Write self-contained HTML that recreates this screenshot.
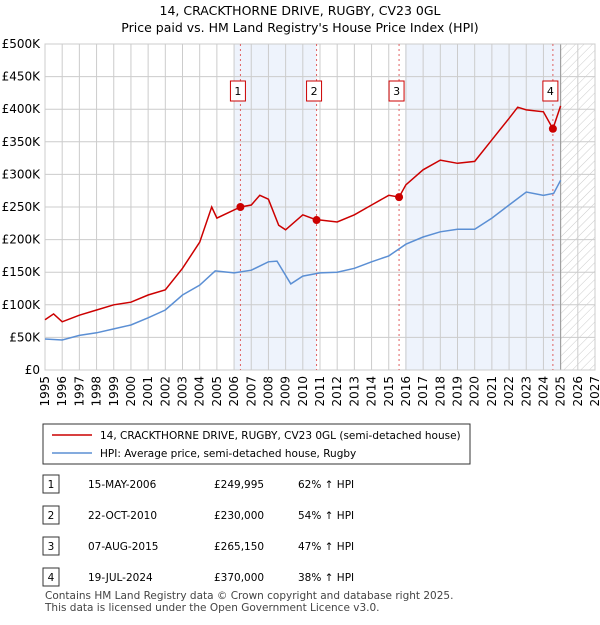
<!DOCTYPE html>
<html><head><meta charset="utf-8"><style>
body{margin:0;background:#fff;font-family:"Liberation Sans","DejaVu Sans",sans-serif;}
svg text{font-family:"DejaVu Sans","Liberation Sans",sans-serif;}
</style></head><body>
<svg id="c" width="600" height="620" xmlns="http://www.w3.org/2000/svg">
<defs><pattern id="hatch" width="6" height="6" patternUnits="userSpaceOnUse" patternTransform="rotate(45)"><line x1="0" y1="0" x2="0" y2="6" stroke="#ccc" stroke-width="1"/></pattern></defs>
<text x="300" y="15" text-anchor="middle" font-size="12.5">14, CRACKTHORNE DRIVE, RUGBY, CV23 0GL</text>
<text x="300" y="32" text-anchor="middle" font-size="12.5">Price paid vs. HM Land Registry's House Price Index (HPI)</text>
<g id="plot"></g>
<g>
<rect x="43" y="424" width="427" height="40" fill="#fff" stroke="#333"/>
<line x1="52" y1="435" x2="92" y2="435" stroke="#cc0000" stroke-width="1.5"/>
<text x="100" y="439" font-size="10.5">14, CRACKTHORNE DRIVE, RUGBY, CV23 0GL (semi-detached house)</text>
<line x1="52" y1="453" x2="92" y2="453" stroke="#5b8fd4" stroke-width="1.5"/>
<text x="100" y="457" font-size="10.5">HPI: Average price, semi-detached house, Rugby</text>
</g>
<g id="tbl" font-size="10.5"></g>
<text x="45" y="599" font-size="10.5" fill="#444">Contains HM Land Registry data © Crown copyright and database right 2025.</text>
<text x="45" y="611" font-size="10.5" fill="#444">This data is licensed under the Open Government Licence v3.0.</text>
</svg>
<script>
const hpiYears=[1995,1996,1997,1998,1999,2000,2001,2002,2003,2004,2004.9,2006,2007,2008,2008.5,2009.3,2010,2011,2012,2013,2014,2015,2016,2017,2018,2019,2020,2021,2022,2023,2024,2024.6,2025];
const hpiValues=[47500,46000,53000,57000,63000,69000,80000,92000,115000,130000,152000,149000,153000,166000,167000,132000,144000,149000,150000,156000,166000,175000,193000,204000,212000,216000,216000,233000,253000,273000,268000,271000,291000];
const priceYears=[1995,1995.5,1996,1997,1998,1999,2000,2001,2002,2003,2004,2004.7,2005,2006.37,2007,2007.5,2008,2008.6,2009,2010,2010.8,2011,2012,2013,2014,2015,2015.6,2016,2017,2018,2019,2020,2021,2022,2022.5,2023,2024,2024.55,2025];
const priceValues=[77000,86000,74000,84000,92000,100000,104000,115000,123000,156000,196000,250000,233000,249995,253000,268000,262000,222000,215000,238000,230000,230000,227000,238000,253000,268000,265150,284000,307000,322000,317000,320000,353000,386000,403000,399000,396000,370000,405000];
const saleYears=[2006.37,2010.8,2015.6,2024.55];
const saleLabels=["1","2","3","4"];
const saleDates=["15-MAY-2006","22-OCT-2010","07-AUG-2015","19-JUL-2024"];
const salePrices=["£249,995","£230,000","£265,150","£370,000"];
const saleValues=[249995,230000,265150,370000];
const saleHpi=["62% ↑ HPI","54% ↑ HPI","47% ↑ HPI","38% ↑ HPI"];
const yTicks=[0,50000,100000,150000,200000,250000,300000,350000,400000,450000,500000];
const yTickLabels=["£0","£50K","£100K","£150K","£200K","£250K","£300K","£350K","£400K","£450K","£500K"];
const xTicks=[1995,1996,1997,1998,1999,2000,2001,2002,2003,2004,2005,2006,2007,2008,2009,2010,2011,2012,2013,2014,2015,2016,2017,2018,2019,2020,2021,2022,2023,2024,2025,2026,2027];

const X0=45,X1=595,Y0=370,Y1=44;
const xs=y=>X0+(y-1995)/(2027-1995)*(X1-X0);
const ys=v=>Y0-v/500000*(Y0-Y1);
const NS="http://www.w3.org/2000/svg";
function mk(p,t,a){const e=document.createElementNS(NS,t);for(const k in a)e.setAttribute(k,a[k]);p.appendChild(e);return e;}
const g=document.getElementById('plot');
let r;
r=mk(g,'rect',{x:xs(2006),y:Y1,width:xs(saleYears[1])-xs(2006),height:Y0-Y1,fill:'#eef3fc'});


r=mk(g,'rect',{x:xs(2015.95),y:Y1,width:xs(2025)-xs(2015.95),height:Y0-Y1,fill:'#eef3fc'});


r=mk(g,'rect',{x:xs(2025),y:Y1,width:X1-xs(2025),height:Y0-Y1,fill:'url(#hatch)'});


yTicks.forEach((v,i)=>{
 const l=mk(g,'line',{x1:X0,x2:X1,y1:ys(v),y2:ys(v),stroke:'#ccc'});
 
 
 const t=mk(g,'text',{x:40,y:ys(v)+4,'text-anchor':'end','font-size':'12'});t.textContent=yTickLabels[i];
 
 
});
xTicks.forEach(y=>{
 const l=mk(g,'line',{x1:xs(y),x2:xs(y),y1:Y1,y2:Y0,stroke:'#ccc'});
 
 
 const tx=xs(y)+4, ty=376;
 const t=mk(g,'text',{x:tx,y:ty,'text-anchor':'end','font-size':'12',transform:`rotate(-90 ${tx} ${ty})`});t.textContent=y;
 
 
});
r=mk(g,'line',{x1:xs(2025),x2:xs(2025),y1:Y1,y2:Y0,stroke:'#999'});


r=mk(g,'rect',{x:X0,y:Y1,width:X1-X0,height:Y0-Y1,fill:'none',stroke:'#ccc'});


saleYears.forEach((y,i)=>{
 const l=mk(g,'line',{x1:xs(y),x2:xs(y),y1:Y1,y2:Y0,stroke:'#e06060','stroke-dasharray':'2,3'});
 
 
 const b=mk(g,'rect',{x:xs(y)-10,y:81,width:15,height:20,fill:'#fff',stroke:'#cc0000'});
 
 
 const t=mk(g,'text',{x:xs(y)-2.5,y:95,'text-anchor':'middle','font-size':'11'});t.textContent=saleLabels[i];
 
 
});
const path=(X,V)=>X.map((y,i)=>(i?'L':'M')+xs(y).toFixed(1)+','+ys(V[i]).toFixed(1)).join('');
r=mk(g,'path',{d:path(hpiYears,hpiValues),fill:'none',stroke:'#5b8fd4','stroke-width':1.5});


r=mk(g,'path',{d:path(priceYears,priceValues),fill:'none',stroke:'#cc0000','stroke-width':1.5});


saleYears.forEach((y,i)=>{
 const c=mk(g,'circle',{cx:xs(y),cy:ys(saleValues[i]),r:4,fill:'#cc0000'});
 
 
});
const tb=document.getElementById('tbl');
saleDates.forEach((d,i)=>{
 const yy=487+i*31;
 const b=mk(tb,'rect',{x:43,y:yy-12,width:16,height:18,fill:'#fff',stroke:'#333'});
 
 
 const cells=[[51,saleLabels[i],'middle'],[88,d,'start'],[214,salePrices[i],'start'],[298,saleHpi[i],'start']];
 cells.forEach(c=>{const t=mk(tb,'text',{x:c[0],y:yy+1,'text-anchor':c[2]});t.textContent=c[1];
  
  });
});
</script>
</body></html>
